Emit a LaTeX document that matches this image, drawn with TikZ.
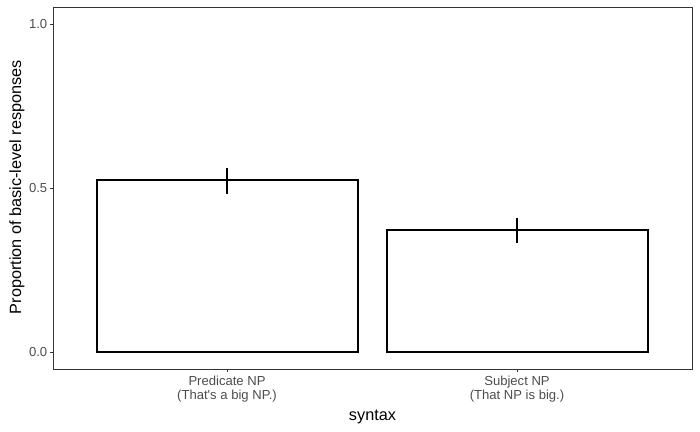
\documentclass[tikz,border=0pt]{standalone}
\usepackage{fontspec}
\setmainfont{Liberation Sans}
\definecolor{axisgrey}{HTML}{4D4D4D}
\definecolor{framegrey}{HTML}{333333}
\tikzset{
  ticklabel/.style={text=axisgrey, font=\fontsize{9.8}{10.5}\selectfont, inner sep=0pt},
  axistitle/.style={text=black, font=\fontsize{12.2}{14}\selectfont, inner sep=0pt},
  bar/.style={draw=black, line width=1.5pt},
  errbar/.style={draw=black, line width=2.2pt},
  tickmark/.style={draw=framegrey, line width=0.6pt}
}
\begin{document}
\begin{tikzpicture}[x=0.75pt, y=-0.75pt]
	\useasboundingbox (0,0) rectangle (700,432);
	\draw [framegrey, line width=0.6pt] (53,7) rectangle (692,369);
	% y axis
	\foreach \v/\lab/\n in {0/0.0/a, 0.5/0.5/b, 1/1.0/c} {
		\draw [tickmark] (50,352-328*\v) -- (53,352-328*\v);
		\node [ticklabel, anchor=east] (ytick\n) at (47.5,352-328*\v) {\lab};
	}
	% bars
	\draw [bar] (96.5,352) rectangle (357.5,180);
	\draw [errbar] (227,168) -- (227,193.5);
	\draw [bar] (386.5,352) rectangle (647.5,230);
	\draw [errbar] (517,218) -- (517,243);
	% x axis
	\draw [tickmark] (227,369) -- (227,372);
	\draw [tickmark] (517,369) -- (517,372);
	\node [ticklabel, anchor=north, align=center] (xpred) at (227,376) {Predicate NP\\(That\textquotesingle s a big NP.)};
	\node [ticklabel, anchor=north, align=center] (xsubj) at (517,376) {Subject NP\\(That NP is big.)};
	\node [axistitle] (xtitle) at (372.5,417) {syntax};
	\node [axistitle, rotate=90] (ytitle) at (17,187) {Proportion of basic-level responses};
\end{tikzpicture}
\end{document}
